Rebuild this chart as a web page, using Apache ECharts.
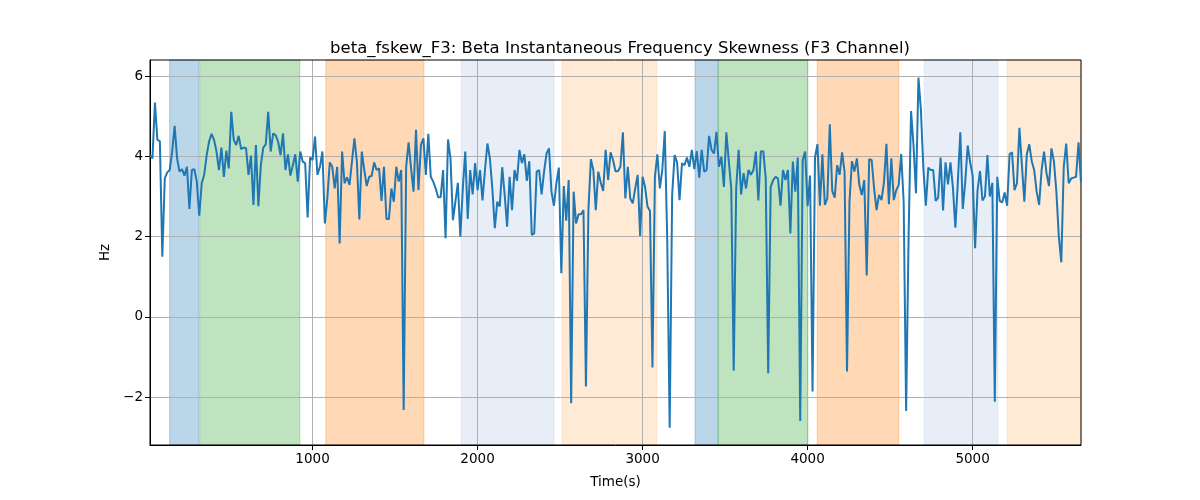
<!DOCTYPE html>
<html>
<head>
<meta charset="utf-8">
<script src="https://cdn.jsdelivr.net/npm/echarts@6/dist/echarts.min.js"></script>
<style>html,body{margin:0;padding:0;background:#fff}#c{width:1200px;height:500px}</style>
</head>
<body>
<div id="c"></div>
<script>
const TITLE = 'beta_fskew_F3: Beta Instantaneous Frequency Skewness (F3 Channel)';
const X_NAME = 'Time(s)';
const Y_NAME = 'Hz';
const TIME_START = 15;
const TIME_END = 5657;
const X_TICKS = [1000, 2000, 3000, 4000, 5000];
const Y_TICKS = [-2, 0, 2, 4, 6];
const Y_MIN = -3.19;
const Y_MAX = 6.40;

const seg1 = [4.03,3.95,5.34,4.41,4.38,1.50,3.45,3.60,3.66,4.12,4.76,3.95,3.62,3.68,3.52,3.74,2.69,3.66,3.68,3.37,2.52,3.33,3.54,4.03,4.37,4.56,4.41,4.12,3.66,4.22,3.49,4.14,3.70,5.11,4.41,4.28,4.51,4.18,4.22,4.20,3.54,4.02,2.79,4.28,2.76,3.78,4.22,4.30,5.11];
const seg2 = [4.12,4.57,4.53,4.37,4.03,4.57,3.66,4.05,3.52,3.78,4.05,3.37,4.12,3.87,3.83,2.48,3.97,3.91,4.49,3.54,3.74,4.12,2.33,2.95,3.85,3.74,3.20,3.74,1.83,4.12,3.33,3.48,3.29,3.87,4.45,3.87,2.43,4.12,3.66,3.26,3.49,3.51,3.85,3.66,3.70,2.89,3.74,2.44,2.44];
const seg3 = [3.20,2.87,3.74,3.37,3.66,-2.32,3.74,4.35,3.70,3.12,4.66,3.16,4.28,4.45,3.54,4.56,3.49,3.37,3.20,2.98,2.98,3.66,1.96,4.42,3.95,2.41,2.87,3.34,2.00,3.20,4.12,2.44,3.66,3.05,3.83,3.16,3.66,2.90,3.66,4.32,3.95,3.20,2.21,2.87,2.75,3.73,3.04,2.25,3.49];
const seg4 = [2.66,3.66,3.39,4.16,3.83,4.05,3.39,3.88,2.04,2.08,3.62,3.66,3.05,3.62,4.07,4.20,3.12,2.77,3.33,3.72,1.09,3.26,2.40,3.41,-2.15,3.12,2.33,2.56,2.56,2.66,-1.73,2.66,3.93,3.66,2.66,3.62,3.35,3.14,4.16,3.41,4.10,3.91,3.63,3.63,3.74,4.60,2.95,3.74,2.95];
const seg5 = [2.83,3.20,3.54,2.02,3.49,3.24,2.75,2.64,-1.26,3.49,4.05,3.20,3.66,4.63,1.96,-2.76,3.04,4.03,3.85,2.91,3.83,3.78,3.97,3.74,4.16,3.68,4.13,3.47,4.16,3.62,3.66,4.51,4.16,4.07,4.61,3.74,3.99,3.24,4.60,3.88,3.20,-1.34,3.20,4.16,3.05,3.58,3.20,3.66];
const seg6 = [3.54,3.66,4.12,2.90,4.12,4.13,3.45,-1.40,3.24,3.41,3.49,3.44,2.77,3.66,3.41,3.66,2.08,3.87,3.12,3.97,-2.59,3.91,4.12,2.76,3.52,-1.86,3.97,4.30,2.77,4.05,2.79,2.95,4.80,3.14,2.97,3.78,3.54,4.10,3.62,-1.36,2.87,3.88,3.62,3.95,3.29,3.04,3.41,1.03,3.93,3.91];
const seg7 = [3.20,2.66,3.04,2.91,3.35,4.31,2.81,3.95,2.91,3.16,3.29,4.06,2.87,-2.34,2.00,5.13,4.28,3.08,5.96,5.15,3.70,2.77,3.72,3.66,3.66,2.89,2.97,3.97,2.65,3.85,3.30,3.85,3.22,2.22,3.37,4.60,2.69,3.37,4.27,3.85,3.52,1.71,3.16,3.63,2.90,3.00,4.03,3.00];
const seg8 = [3.34,-2.11,3.49,2.89,2.85,3.10,2.77,4.05,4.10,3.16,3.33,4.71,3.78,2.87,4.05,4.30,3.88,3.66,3.12,2.79,3.66,4.12,3.58,3.26,4.20,3.88,3.12,2.00,1.36,3.74,4.32,3.33,3.45,3.47,3.49,4.35,3.35];
const values = [].concat(seg1, seg2, seg3, seg4, seg5, seg6, seg7, seg8);

// shaded intervals: [start, end, kind]
const bandStarts = [134, 316, 1080, 1901, 2513, 3318, 3458, 4058, 4707, 5210];
const bandEnds   = [310, 923, 1675, 2463, 3086, 3458, 4002, 4553, 5153, 5657];
const bandKinds  = ['blue', 'green', 'orange', 'lightblue', 'lightorange', 'blue', 'green', 'orange', 'lightblue', 'lightorange'];

const KIND_COLOR = {
  blue: 'rgba(31,119,180,0.3)',
  green: 'rgba(44,160,44,0.3)',
  orange: 'rgba(255,127,14,0.3)',
  lightblue: 'rgba(174,199,232,0.3)',
  lightorange: 'rgba(255,187,120,0.3)'
};

const step = (TIME_END - TIME_START) / (values.length - 1);
const lineData = values.map((v, i) => [TIME_START + i * step, v]);

const markData = bandStarts.map((s, i) => [
  { xAxis: s, itemStyle: { color: KIND_COLOR[bandKinds[i]], borderColor: KIND_COLOR[bandKinds[i]], borderWidth: 1 } },
  { xAxis: bandEnds[i] }
]);

const fmt = v => String(v).replace('-', '\u2212');
const FONT = 'DejaVu Sans';

const chart = echarts.init(document.getElementById('c'), null, { renderer: 'canvas' });
chart.setOption({
  animation: false,
  backgroundColor: '#fff',
  title: {
    text: TITLE,
    left: 615,
    textAlign: 'center',
    top: 35,
    textStyle: { fontFamily: FONT, fontSize: 16.5, fontWeight: 'normal', color: '#000' }
  },
  grid: {
    left: 150, right: 119, top: 60, bottom: 55,
    show: true, borderColor: '#000', borderWidth: 1, backgroundColor: 'transparent', z: 4
  },
  xAxis: {
    type: 'value', min: TIME_START, max: TIME_END, z: 3,
    name: X_NAME, nameLocation: 'middle', nameGap: 30,
    nameTextStyle: { fontFamily: FONT, fontSize: 13.5, color: '#000' },
    axisLine: { show: true, onZero: false, lineStyle: { color: '#000', width: 1 } },
    axisTick: { show: true, customValues: X_TICKS, length: 5, lineStyle: { color: '#000' } },
    axisLabel: { customValues: X_TICKS, fontFamily: FONT, fontSize: 13.5, color: '#000', margin: 7, formatter: fmt },
    splitLine: { show: true, lineStyle: { color: '#b0b0b0', width: 1 } }
  },
  yAxis: {
    type: 'value', min: Y_MIN, max: Y_MAX, z: 3,
    name: Y_NAME, nameLocation: 'middle', nameGap: 35, nameRotate: 90,
    nameTextStyle: { fontFamily: FONT, fontSize: 13.5, color: '#000' },
    axisLine: { show: true, onZero: false, lineStyle: { color: '#000', width: 1 } },
    axisTick: { show: true, customValues: Y_TICKS, length: 5, lineStyle: { color: '#000' } },
    axisLabel: { customValues: Y_TICKS, fontFamily: FONT, fontSize: 13.5, color: '#000', margin: 7, formatter: fmt },
    splitLine: { show: true, lineStyle: { color: '#b0b0b0', width: 1 } }
  },
  series: [
    {
      type: 'line', z: 1, data: [], silent: true,
      markArea: { silent: true, z: 1, data: markData }
    },
    {
      type: 'line', z: 5, data: lineData, showSymbol: false, symbol: 'none',
      lineStyle: { color: '#1f77b4', width: 2 }, itemStyle: { color: '#1f77b4' }
    }
  ]
});
</script>
</body>
</html>
